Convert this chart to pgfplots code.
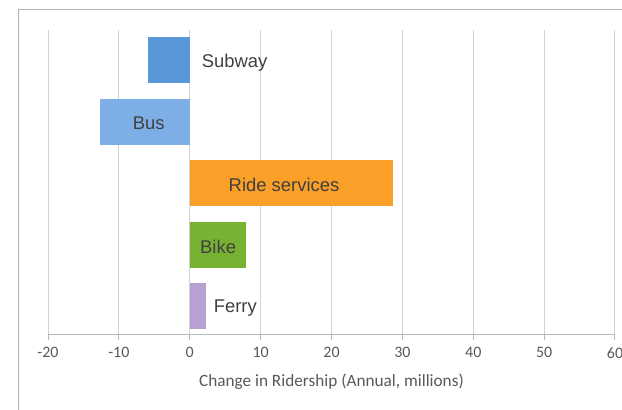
\documentclass[border=0pt]{standalone}
\usepackage{pgfplots}
\pgfplotsset{compat=1.18}
\usepackage{fontspec}
\setmainfont{Carlito}
\newfontfamily\lab{Liberation Sans}
\definecolor{cSub}{RGB}{89,151,217}
\definecolor{cBus}{RGB}{126,174,230}
\definecolor{cRide}{RGB}{250,160,40}
\definecolor{cBike}{RGB}{120,178,50}
\definecolor{cFerry}{RGB}{185,160,210}
\definecolor{txt}{RGB}{64,64,64}
\definecolor{tick}{RGB}{89,89,89}
\definecolor{grd}{RGB}{210,210,210}
\begin{document}
\begin{tikzpicture}
\useasboundingbox (0,0) rectangle (622bp,410bp);
\fill[white] (0,0) rectangle (622bp,410bp);
\draw[gray!60, line width=1bp] (18bp,0) -- (18bp,400bp) -- (622bp,400bp);
\begin{axis}[
  at={(48bp,75bp)}, anchor=south west,
  scale only axis, width=567bp, height=305bp,
  xmin=-20, xmax=60, ymin=-0.47, ymax=4.49,
  xtick={-20,-10,...,60}, ytick=\empty,
  axis x line*=bottom, axis y line=none,
  x axis line style={grd!70!gray, line width=1bp, -},
  xmajorgrids, grid style={grd, line width=1bp},
  tick align=outside, major tick length=5bp,
  every tick/.style={grd!70!gray, line width=1bp},
  /pgf/number format/assume math mode=true,
  xticklabel style={font=\fontsize{16}{18}\selectfont, text=tick, yshift=-4bp},
  xlabel={Change in Ridership (Annual, millions)},
  xlabel style={font=\fontsize{17.3}{19}\selectfont, text=tick, yshift=-9bp},
  xbar, bar width=0.75, bar shift=0pt,
  every axis plot/.append style={draw=none},
  clip=false,
]
\addplot[fill=cSub] coordinates {(-5.9,4)};
\addplot[fill=cBus] coordinates {(-12.7,3)};
\addplot[fill=cRide] coordinates {(28.7,2)};
\addplot[fill=cBike] coordinates {(7.9,1)};
\addplot[fill=cFerry] coordinates {(2.3,0)};
\node[anchor=west, text=txt, font=\lab\fontsize{18.5}{20}\selectfont] at (axis cs:1.2,3.95) {Subway};
\node[text=txt, font=\lab\fontsize{18.5}{20}\selectfont] at (axis cs:-5.8,2.97) {Bus};
\node[text=txt, font=\lab\fontsize{18.5}{20}\selectfont] at (axis cs:13.3,1.97) {Ride services};
\node[text=txt, font=\lab\fontsize{18.5}{20}\selectfont] at (axis cs:4.0,0.97) {Bike};
\node[anchor=west, text=txt, font=\lab\fontsize{18.5}{20}\selectfont] at (axis cs:2.9,-0.03) {Ferry};
\end{axis}
\end{tikzpicture}
\end{document}
